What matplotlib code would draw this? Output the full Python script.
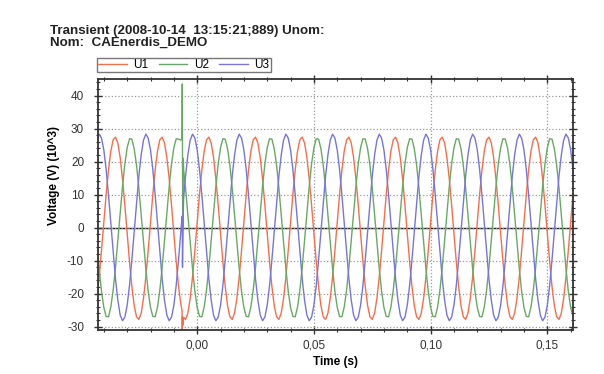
import numpy as np
import matplotlib
matplotlib.use("Agg")
import matplotlib.pyplot as plt
from matplotlib.ticker import MultipleLocator, FuncFormatter

plt.rcParams['font.family'] = ['Liberation Sans', 'DejaVu Sans']

# sampled waveforms, one 20 ms cycle per phase (1 ms steps), in kV
t_start = -0.060
dt = 0.001
n_cycles = 12
cycle_u1 = [1.7, 10.1, 17.5, 23.2, 26.6, 27.4, 25.6, 21.2, 14.7, 6.8,
            -1.7, -10.3, -17.8, -23.6, -27.0, -27.8, -25.9, -21.4, -14.9, -6.9]
cycle_u2 = [-24.2, -26.9, -27.0, -24.0, -18.9, -12.0, -3.9, 4.5, 12.5, 19.3,
            24.2, 26.9, 26.8, 23.9, 18.9, 12.0, 3.9, -4.5, -12.5, -19.3]
cycle_u3 = [23.5, 17.5, 9.8, 1.2, -7.6, -15.6, -22.0, -26.5, -28.2, -27.1,
            -23.5, -17.5, -9.8, -1.2, 7.6, 15.6, 22.0, 26.5, 28.3, 27.1]

# transient event around t = -6.4 ms
tr_window = (-0.0075, -0.0055)
tr_t = [-0.0070, -0.0067, -0.0065, -0.0064, -0.0063, -0.0062, -0.0061, -0.0060, -0.0058]
tr_u1 = [-23.2, -24.2, -25.0, -33.0, -27.0, -28.5, -29.5, -27.8, -27.2]
tr_u2 = [26.5, 26.8, 27.3, 43.5, 24.0, 0.0, 14.0, 21.0, 17.5]
tr_u3 = [-1.2, 1.5, 2.5, 3.5, -12.0, -6.0, -3.0, 4.0, 9.0]

series_names = ['U1', 'U2', 'U3']
colors = ['#f0704e', '#6aa866', '#7676d4']


def build(cycle, tr_vals):
    base = np.tile(np.array(cycle, dtype=float), n_cycles)
    t = np.round(t_start + np.arange(len(base)) * dt, 6)
    keep = (t < tr_window[0]) | (t > tr_window[1])
    tt = np.concatenate([t[keep], tr_t])
    vv = np.concatenate([base[keep], tr_vals])
    order = np.argsort(tt)
    return tt[order], vv[order]


fig = plt.figure(figsize=(6.04, 3.74), dpi=100)
ax = fig.add_axes([98 / 604, 1 - 330 / 374, 475 / 604, 251 / 374])

for name, cyc, trv, col in zip(series_names, [cycle_u1, cycle_u2, cycle_u3],
                               [tr_u1, tr_u2, tr_u3], colors):
    tt, vv = build(cyc, trv)
    ax.plot(tt, vv, color=col, lw=1.0, label=name)

ax.axhline(0, color='#222222', lw=1.0, zorder=1)

ax.set_xlim(-0.0425, 0.161)
ax.set_ylim(-31, 45)

ax.xaxis.set_major_locator(MultipleLocator(0.05))
ax.xaxis.set_minor_locator(MultipleLocator(0.01))
ax.yaxis.set_major_locator(MultipleLocator(10))
ax.yaxis.set_minor_locator(MultipleLocator(2))
ax.xaxis.set_major_formatter(FuncFormatter(lambda v, p: f"{v:.2f}".replace('.', ',')))
ax.yaxis.set_major_formatter(FuncFormatter(lambda v, p: f"{v:.0f}"))

ax.tick_params(which='both', direction='inout', top=True, right=True,
               colors='#333333', labelsize=8.5, labelcolor='#333333')
ax.tick_params(which='major', length=6, width=1.0, pad=4)
ax.tick_params(axis='y', which='major', pad=7)
ax.tick_params(which='minor', length=3, width=0.8)

for s in ax.spines.values():
    s.set_color('#333333')
    s.set_linewidth(1.3)

ax.grid(True, which='major', linestyle=':', color='#999999', lw=0.9)

ax.set_xlabel('Time (s)', fontsize=8.5, fontweight='bold', labelpad=3)
ax.set_ylabel('Voltage (V) (10^3)', fontsize=8.5, fontweight='bold')
ax.yaxis.set_label_coords(-0.08, 0.617)

fig.text(50 / 604, 1 - 25 / 374,
         'Transient (2008-10-14  13:15:21;889) Unom:\nNom:  CAEnerdis_DEMO',
         fontsize=9.6, fontweight='bold', va='top', ha='left', linespacing=1.0,
         color='#222222')

leg = fig.legend(loc='lower left', bbox_to_anchor=(97 / 604, 1 - 72 / 374),
                 ncol=3, fontsize=8.5, frameon=True, fancybox=False,
                 handlelength=2.4, columnspacing=0.85, handletextpad=0.6,
                 borderpad=0.1, borderaxespad=0)
leg.get_frame().set_edgecolor('#555555')
leg.get_frame().set_linewidth(1.0)

fig.savefig('out.png', dpi=100)
